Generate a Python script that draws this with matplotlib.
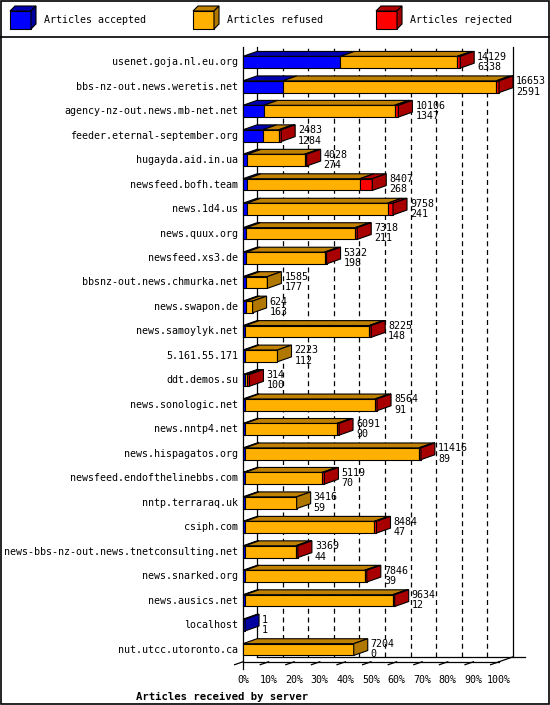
import matplotlib
matplotlib.use("Agg")
import matplotlib.pyplot as plt
from matplotlib.patches import Polygon, Rectangle
from matplotlib.lines import Line2D

servers = ["usenet.goja.nl.eu.org", "bbs-nz-out.news.weretis.net", "agency-nz-out.news.mb-net.net",
           "feeder.eternal-september.org", "hugayda.aid.in.ua", "newsfeed.bofh.team", "news.1d4.us",
           "news.quux.org", "newsfeed.xs3.de", "bbsnz-out.news.chmurka.net", "news.swapon.de",
           "news.samoylyk.net", "5.161.55.171", "ddt.demos.su", "news.sonologic.net", "news.nntp4.net",
           "news.hispagatos.org", "newsfeed.endofthelinebbs.com", "nntp.terraraq.uk", "csiph.com",
           "news-bbs-nz-out.news.tnetconsulting.net", "news.snarked.org", "news.ausics.net",
           "localhost", "nut.utcc.utoronto.ca"]
total = [14129, 16653, 10106, 2483, 4028, 8407, 9758, 7318, 5322, 1585, 624, 8225, 2223, 314,
         8564, 6091, 11416, 5119, 3416, 8484, 3369, 7846, 9634, 1, 7204]
accepted = [6338, 2591, 1347, 1284, 274, 268, 241, 211, 198, 177, 163, 148, 112, 100,
            91, 90, 89, 70, 59, 47, 44, 39, 12, 1, 0]
rejected = [190, 180, 250, 160, 20, 800, 350, 20, 20, 0, 0, 20, 0, 60,
            20, 20, 20, 20, 0, 20, 20, 20, 20, 0, 0]
legend_labels = ["Articles accepted", "Articles refused", "Articles rejected"]
ticks = [0, 10, 20, 30, 40, 50, 60, 70, 80, 90, 100]

front = ["#0000ff", "#ffb000", "#ff0000"]
topc = ["#0000b0", "#c08000", "#b00000"]
sidec = ["#0000a0", "#b07800", "#a80000"]

W, H = 550, 705
fig = plt.figure(figsize=(W/100, H/100), dpi=100)
mono = "DejaVu Sans Mono"
fs = 7.2

# axes: x in percent, y rows
L, R = 243, 499
top_px, bot_px = 50, 674
ax = fig.add_axes([L/W, 1-bot_px/H, (R-L)/W, (bot_px-top_px)/H])
ax.set_xlim(0, 100)
n = len(servers)
ax.set_ylim(-(n-1)-0.5-0.5, 0.5)
ax.axis("off")
pxx = 100/(R-L)
pxy = (n+0.0)/(bot_px-top_px)
dx = 14*pxx
dy = 5*pxy
bh = 12*pxy
ymin_floor = -(n-1)-0.5-0.5+0.5*pxy*2

mx = max(total)
floor_y = -(n-1) - 0.5
top_y = 0.5 + 3*pxy
# back wall gridlines
for t in ticks[1:-1]:
    ax.plot([t+dx, t+dx], [floor_y+dy, top_y], ls=(0, (4, 3)), color="k", lw=0.9, clip_on=False)
ax.plot([dx, dx], [floor_y+dy, top_y], color="k", lw=0.9, clip_on=False)
ax.plot([100+dx, 100+dx], [floor_y+dy, top_y], color="k", lw=0.9, clip_on=False)
ax.plot([0, 0], [floor_y-0.3, top_y], color="k", lw=0.9, clip_on=False)
# floor
ax.plot([0, 100], [floor_y, floor_y], color="k", lw=0.9, clip_on=False)
ax.plot([dx, 100+dx+4*dx/14*3], [floor_y+dy, floor_y+dy], color="k", lw=0.9, clip_on=False)
ax.plot([100, 100+dx], [floor_y, floor_y+dy], color="k", lw=0.9, clip_on=False)
for t in ticks:
    ax.plot([t-0.6*dx, t], [floor_y-0.6*dy, floor_y], color="k", lw=0.9, clip_on=False)
    ax.text(t, floor_y-0.75, f"{t}%", ha="center", va="center", fontsize=fs, family=mono)
ax.text(-8, floor_y-1.45, "Articles received by server", ha="center", va="center",
        fontsize=fs+0.5, family=mono, weight="bold")
ax.set_xlim(0, 100)

for i, name in enumerate(servers):
    yc = -i
    y0 = yc - bh/2
    refused = total[i] - accepted[i] - rejected[i]
    segs = [accepted[i], refused, rejected[i]]
    x = 0
    last = None
    for k, v in enumerate(segs):
        if v <= 0:
            continue
        w = max(v/mx*100, 0.8)
        ax.add_patch(Rectangle((x, y0), w, bh, fc=front[k], ec="k", lw=0.8, clip_on=False, zorder=3))
        ax.add_patch(Polygon([(x, y0+bh), (x+w, y0+bh), (x+w+dx, y0+bh+dy), (x+dx, y0+bh+dy)],
                             closed=True, fc=topc[k], ec="k", lw=0.8, clip_on=False, zorder=3))
        x += w
        last = k
    if last is not None:
        ax.add_patch(Polygon([(x, y0), (x+dx, y0+dy), (x+dx, y0+bh+dy), (x, y0+bh)],
                             closed=True, fc=sidec[last], ec="k", lw=0.8, clip_on=False, zorder=3))
    tx = x + dx + 1.2
    ax.text(tx, yc+0.22, str(total[i]), ha="left", va="center", fontsize=fs, family=mono, zorder=4)
    ax.text(tx, yc-0.2, str(accepted[i]), ha="left", va="center", fontsize=fs, family=mono, zorder=4)
    ax.text(-2, yc, name, ha="right", va="center", fontsize=fs, family=mono)

# legend area
lg = fig.add_axes([0, 0, 1, 1])
lg.set_xlim(0, W); lg.set_ylim(H, 0); lg.axis("off")
lg.add_patch(Rectangle((1, 1), W-2, H-2, fill=False, ec="k", lw=1.2))
lg.plot([1, W-1], [37, 37], color="k", lw=1.2)
for k, (lab, x0) in enumerate(zip(legend_labels, [10, 193, 376])):
    lg.add_patch(Rectangle((x0, 11), 21, 18, fc=front[k], ec="k", lw=0.8))
    lg.add_patch(Polygon([(x0, 11), (x0+5, 6), (x0+26, 6), (x0+21, 11)], fc=topc[k], ec="k", lw=0.8))
    lg.add_patch(Polygon([(x0+21, 11), (x0+26, 6), (x0+26, 24), (x0+21, 29)], fc=sidec[k], ec="k", lw=0.8))
    lg.text(x0+34, 20, lab, ha="left", va="center", fontsize=fs, family=mono)

fig.savefig("out.png", dpi=100)
